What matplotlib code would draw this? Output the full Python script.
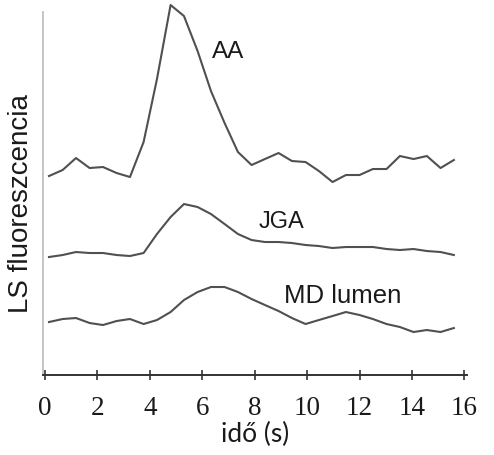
import matplotlib
matplotlib.use("Agg")
from matplotlib import pyplot as plt

# Sample times (s), one frame about every 0.5 s
time_s = [0.15, 0.67, 1.18, 1.70, 2.21, 2.73, 3.24, 3.76, 4.27, 4.79, 5.30,
          5.82, 6.33, 6.85, 7.36, 7.88, 8.39, 8.91, 9.42, 9.94, 10.45, 10.97,
          11.48, 12.00, 12.51, 13.03, 13.54, 14.06, 14.57, 15.09, 15.60]

# LS fluorescence traces (arbitrary units, stacked)
aa = [19.9, 20.5, 21.7, 20.7, 20.8, 20.2, 19.8, 23.3, 29.6, 37.0, 35.9,
      32.4, 28.4, 25.2, 22.3, 21.0, 21.6, 22.2, 21.4, 21.3, 20.4, 19.3,
      20.0, 20.0, 20.6, 20.6, 21.9, 21.6, 21.9, 20.7, 21.5]
jga = [11.8, 12.0, 12.3, 12.2, 12.2, 12.0, 11.9, 12.2, 14.1, 15.8, 17.1,
       16.8, 16.1, 15.1, 14.1, 13.5, 13.3, 13.3, 13.2, 13.0, 12.9, 12.7,
       12.8, 12.8, 12.8, 12.6, 12.5, 12.6, 12.4, 12.3, 12.0]
md_lumen = [5.3, 5.6, 5.7, 5.2, 5.0, 5.4, 5.6, 5.1, 5.5, 6.3, 7.5,
            8.3, 8.8, 8.8, 8.3, 7.6, 7.0, 6.4, 5.7, 5.1, 5.5, 5.9,
            6.3, 6.0, 5.6, 5.1, 4.8, 4.3, 4.5, 4.3, 4.7]

trace_names = ["AA", "JGA", "MD lumen"]
# where each trace name sits (time, value) and its size
name_pos = [(6.37, 31.8), (8.14, 14.8), (9.10, 7.27)]
name_size = [17.5, 17, 18.5]
xticks = [0, 2, 4, 6, 8, 10, 12, 14, 16]

fig = plt.figure(figsize=(4.94, 4.56), dpi=100)
ax = fig.add_axes([0.087, 0.1754, 0.8583, 0.8114])

line_color = "#505050"
for y in [aa, jga, md_lumen]:
    ax.plot(time_s, y, color=line_color, linewidth=1.5, clip_on=False)

for name, (tx, ty), fs in zip(trace_names, name_pos, name_size):
    ax.text(tx, ty, name, fontsize=fs, family="Liberation Sans",
            color="#1a1a1a", va="baseline", ha="left")

ax.set_xlim(-0.08, 16.1)
ax.set_ylim(0, 37.0)

# axes styling
ax.spines["top"].set_visible(False)
ax.spines["right"].set_visible(False)
ax.spines["left"].set_color("#bbbbbb")
ax.spines["left"].set_linewidth(1.2)
ax.spines["left"].set_bounds(0, 36.3)
ax.spines["bottom"].set_color("#333333")
ax.spines["bottom"].set_linewidth(1.4)

ax.set_yticks([])
ax.set_xticks(xticks)
ax.set_xticklabels([str(v) for v in xticks], family="Liberation Serif",
                   fontsize=19.5, color="#1a1a1a")
ax.tick_params(axis="x", direction="inout", length=7, width=1.2,
               color="#333333", pad=11)

ax.set_xlabel("idő (s)", family="Lato", fontsize=19, color="#1a1a1a")
ax.xaxis.set_label_coords(0.5, -0.125)
ax.set_ylabel("LS fluoreszcencia", family="Liberation Sans", fontsize=20,
              color="#1a1a1a")
ax.yaxis.set_label_coords(-0.02, 0.465)

fig.savefig("out.png", dpi=100)
